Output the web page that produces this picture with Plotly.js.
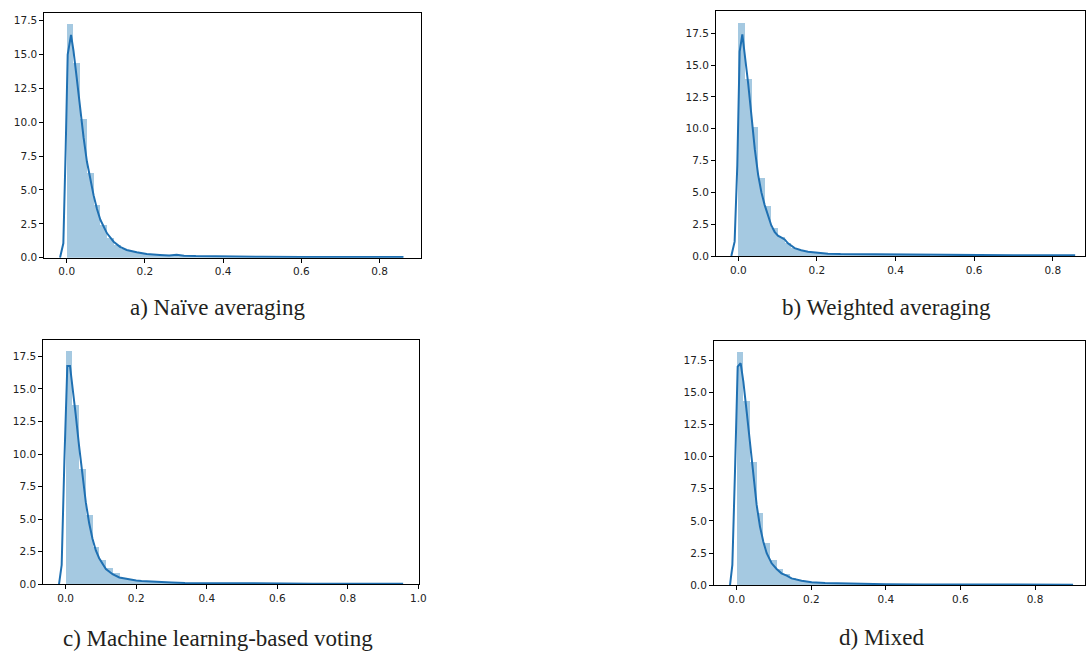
<!DOCTYPE html>
<html>
<head>
<meta charset="utf-8">
<script src="https://cdn.plot.ly/plotly-3.0.1.min.js"></script>
<style>html,body{margin:0;padding:0;background:#fff;}#chart{width:1086px;height:652px;}</style>
</head>
<body>
<div id="chart"></div>
<script>
// ---------- data ----------
const captions = ["a) Naïve averaging", "b) Weighted averaging", "c) Machine learning-based voting", "d) Mixed"];
const tickValsX = [0, 0.2, 0.4, 0.6, 0.8, 1.0];
const tickValsY = [0, 2.5, 5, 7.5, 10, 12.5, 15, 17.5];

// histogram bin widths (50 bins starting at 0)
const binWidthA = 0.0172;
const binWidthB = 0.0168;
const binWidthC = 0.0191;
const binWidthD = 0.0178;

// histogram densities
const histA = [17.24, 14.41, 10.25, 6.23, 3.89, 2.4, 1.48, 0.94, 0.65, 0.5, 0.4, 0.33, 0.27, 0.22, 0.18, 0.2, 0.22, 0.15, 0.12, 0.1, 0.09, 0.08, 0.07, 0.07, 0.06, 0.05, 0.04, 0.05, 0.04, 0.03, 0.03, 0.03, 0.02, 0.03, 0.02, 0.02, 0.02, 0.02, 0.02, 0.02, 0.02, 0.02, 0.02, 0.02, 0.02, 0.02, 0.02, 0.02, 0.02, 0.02];
const histB = [18.29, 13.89, 10.17, 6.1, 3.96, 2.23, 1.52, 1.0, 0.65, 0.5, 0.37, 0.3, 0.25, 0.2, 0.17, 0.15, 0.14, 0.13, 0.12, 0.12, 0.1, 0.1, 0.08, 0.07, 0.06, 0.05, 0.05, 0.04, 0.04, 0.03, 0.03, 0.03, 0.02, 0.02, 0.02, 0.02, 0.02, 0.02, 0.02, 0.02, 0.02, 0.02, 0.02, 0.02, 0.02, 0.02, 0.02, 0.02, 0.02, 0.02];
const histC = [17.88, 13.74, 8.84, 5.31, 2.89, 1.86, 1.28, 0.84, 0.5, 0.38, 0.3, 0.25, 0.2, 0.17, 0.15, 0.13, 0.1, 0.1, 0.08, 0.07, 0.06, 0.05, 0.05, 0.04, 0.04, 0.03, 0.03, 0.03, 0.02, 0.02, 0.02, 0.02, 0.02, 0.02, 0.02, 0.02, 0.02, 0.02, 0.02, 0.02, 0.02, 0.02, 0.02, 0.02, 0.02, 0.02, 0.02, 0.02, 0.02, 0.02];
const histD = [18.1, 14.32, 9.61, 5.59, 3.26, 1.97, 1.27, 0.85, 0.55, 0.42, 0.32, 0.25, 0.2, 0.18, 0.16, 0.15, 0.14, 0.13, 0.12, 0.1, 0.08, 0.07, 0.06, 0.05, 0.05, 0.04, 0.04, 0.03, 0.03, 0.03, 0.02, 0.02, 0.02, 0.02, 0.02, 0.02, 0.02, 0.02, 0.02, 0.02, 0.02, 0.02, 0.02, 0.02, 0.02, 0.02, 0.02, 0.02, 0.02, 0.02];

// KDE curves
const kdeAx = [-0.0171, -0.0086, -0.0026, 0.0025, 0.011, 0.0172, 0.0255, 0.0344, 0.043, 0.0516, 0.0602, 0.0688, 0.0774, 0.086, 0.103, 0.12, 0.1363, 0.1534, 0.179, 0.2045, 0.2386, 0.262, 0.281, 0.30, 0.33, 0.37, 0.42, 0.5, 0.6, 0.7, 0.8, 0.861];
const kdeAy = [0, 1.06, 8.1, 15.0, 16.45, 15.3, 13.3, 10.9, 8.9, 7.1, 5.7, 4.6, 3.6, 2.8, 1.8, 1.18, 0.8, 0.57, 0.4, 0.27, 0.2, 0.16, 0.21, 0.15, 0.12, 0.1, 0.08, 0.07, 0.06, 0.05, 0.05, 0.05];
const kdeBx = [-0.0177, -0.0093, -0.0025, 0.0035, 0.0103, 0.0168, 0.025, 0.0336, 0.042, 0.0504, 0.0588, 0.0672, 0.0756, 0.084, 0.0924, 0.1008, 0.11, 0.118, 0.1264, 0.1434, 0.16, 0.1774, 0.2028, 0.2283, 0.26, 0.3, 0.36, 0.42, 0.5, 0.6, 0.7, 0.8, 0.857];
const kdeBy = [0, 1.13, 7.15, 16.06, 17.43, 15.9, 13.6, 11.0, 8.4, 6.4, 5.0, 4.0, 3.1, 2.4, 1.9, 1.6, 1.45, 1.3, 1.0, 0.62, 0.45, 0.34, 0.26, 0.18, 0.15, 0.14, 0.12, 0.08, 0.06, 0.05, 0.05, 0.05, 0.05];
const kdeCx = [-0.019, -0.0114, -0.0038, 0.0046, 0.0122, 0.019, 0.0285, 0.038, 0.0475, 0.057, 0.0665, 0.076, 0.0855, 0.095, 0.114, 0.133, 0.152, 0.178, 0.2, 0.215, 0.25, 0.272, 0.3, 0.338, 0.38, 0.4, 0.45, 0.5, 0.6, 0.7, 0.8, 0.9, 0.957];
const kdeCy = [0, 1.48, 9.4, 16.76, 16.76, 15.3, 13.0, 10.6, 8.3, 6.3, 4.7, 3.5, 2.6, 2.0, 1.17, 0.77, 0.52, 0.38, 0.3, 0.26, 0.2, 0.15, 0.14, 0.1, 0.09, 0.08, 0.06, 0.05, 0.05, 0.05, 0.05, 0.05, 0.05];
const kdeDx = [-0.018, -0.0117, -0.0046, 0.0026, 0.0106, 0.0178, 0.0267, 0.0356, 0.0446, 0.0535, 0.0624, 0.0714, 0.0804, 0.0937, 0.107, 0.12, 0.134, 0.147, 0.174, 0.201, 0.237, 0.28, 0.317, 0.36, 0.4, 0.5, 0.6, 0.7, 0.8, 0.902];
const kdeDy = [0, 1.58, 8.83, 16.99, 17.25, 15.82, 13.49, 10.9, 8.31, 6.24, 4.56, 3.39, 2.49, 1.71, 1.27, 0.93, 0.75, 0.54, 0.36, 0.23, 0.18, 0.14, 0.13, 0.1, 0.08, 0.06, 0.05, 0.05, 0.05, 0.05];

// ---------- build figure ----------
const W = 1086, H = 652;
const panels = [
  {hist: histA, bw: binWidthA, kx: kdeAx, ky: kdeAy, xr: [-0.0573, 0.905], yr: [0, 18.09], px: [44.3, 420.7], py: [12.7, 257.7], cap: [217.5, 307.5]},
  {hist: histB, bw: binWidthB, kx: kdeBx, ky: kdeBy, xr: [-0.0567, 0.882], yr: [0, 19.26], px: [716, 1085], py: [11, 256], cap: [886.5, 307.5]},
  {hist: histC, bw: binWidthC, kx: kdeCx, ky: kdeCy, xr: [-0.0635, 1.002], yr: [0, 18.75], px: [43.3, 419], py: [340, 584.3], cap: [218, 638.5]},
  {hist: histD, bw: binWidthD, kx: kdeDx, ky: kdeDy, xr: [-0.0609, 0.934], yr: [0, 18.98], px: [714, 1085], py: [341, 585.3], cap: [881, 637.5]}
];

const traces = [];
const layout = {
  width: W, height: H,
  margin: {l: 0, r: 0, t: 0, b: 0},
  paper_bgcolor: '#fff', plot_bgcolor: '#fff',
  showlegend: false,
  bargap: 0,
  annotations: []
};
const tickFont = {family: 'DejaVu Sans, sans-serif', size: 10.5, color: '#222'};

panels.forEach((p, i) => {
  const n = i + 1;
  const xa = 'x' + (n === 1 ? '' : n), ya = 'y' + (n === 1 ? '' : n);
  const centers = p.hist.map((_, k) => (k + 0.5) * p.bw);
  traces.push({
    type: 'bar', x: centers, y: p.hist, width: p.bw, xaxis: xa, yaxis: ya,
    marker: {color: 'rgba(31,119,180,0.4)', line: {width: 0}}, hoverinfo: 'skip'
  });
  traces.push({
    type: 'scatter', mode: 'lines', x: p.kx, y: p.ky, xaxis: xa, yaxis: ya,
    line: {color: '#1f70b2', width: 2}, hoverinfo: 'skip'
  });
  const axCommon = {
    showgrid: false, zeroline: false, showline: true, mirror: true,
    linecolor: '#000', linewidth: 1, ticks: 'outside', ticklen: 4, tickwidth: 1,
    tickcolor: '#000', tickfont: tickFont, fixedrange: true
  };
  layout['xaxis' + (n === 1 ? '' : n)] = Object.assign({}, axCommon, {
    domain: [p.px[0] / W, p.px[1] / W], range: p.xr, anchor: ya,
    tickvals: tickValsX, tickformat: '.1f'
  });
  layout['yaxis' + (n === 1 ? '' : n)] = Object.assign({}, axCommon, {
    domain: [1 - p.py[1] / H, 1 - p.py[0] / H], range: p.yr, anchor: xa,
    tickvals: tickValsY, tickformat: '.1f'
  });
  layout.annotations.push({
    xref: 'paper', yref: 'paper', x: p.cap[0] / W, y: 1 - p.cap[1] / H,
    xanchor: 'center', yanchor: 'middle', showarrow: false,
    text: captions[i], font: {family: 'Liberation Serif, Times New Roman, serif', size: 23, color: '#231f20'}
  });
});

Plotly.newPlot('chart', traces, layout, {staticPlot: true, displayModeBar: false});
</script>
</body>
</html>
